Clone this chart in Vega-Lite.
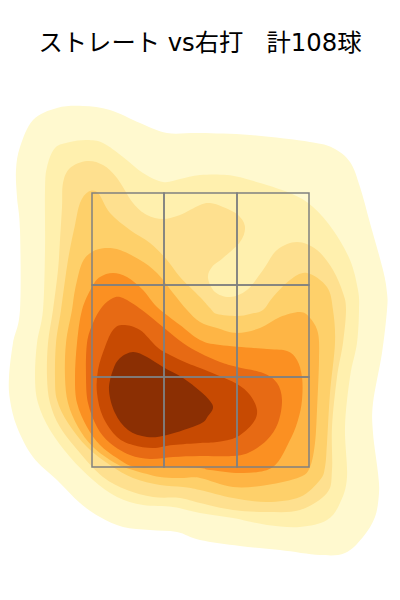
{"$schema":"https://vega.github.io/schema/vega-lite/v6.json","width":400,"height":520,"padding":{"top":80,"left":0,"right":0,"bottom":0},"autosize":"none","background":"white","view":{"stroke":null},
"title":{"text":"ストレート vs右打\u00a0\u00a0\u00a0計108球","font":"DejaVu Sans, Noto Sans CJK JP","fontSize":24.3,"fontWeight":"normal","color":"black","anchor":"middle","offset":24},
"datasets":{"contours":[
{"level":"1","x":-1.8,"z":2.9},{"level":"1","x":-1.8,"z":3.7},{"level":"1","x":-1.83,"z":4.03},{"level":"1","x":-1.84,"z":4.3},{"level":"1","x":-1.8,"z":4.53},{"level":"1","x":-1.67,"z":4.8},{"level":"1","x":-1.43,"z":4.92},{"level":"1","x":-1.17,"z":4.94},{"level":"1","x":-0.9,"z":4.9},{"level":"1","x":-0.6,"z":4.77},{"level":"1","x":-0.33,"z":4.67},{"level":"1","x":0,"z":4.67},{"level":"1","x":0.5,"z":4.65},{"level":"1","x":1.1,"z":4.58},{"level":"1","x":1.33,"z":4.52},{"level":"1","x":1.5,"z":4.38},{"level":"1","x":1.6,"z":4.13},{"level":"1","x":1.7,"z":3.77},{"level":"1","x":1.83,"z":3.3},{"level":"1","x":1.87,"z":3.07},{"level":"1","x":1.87,"z":2.9},{"level":"1","x":1.82,"z":2.47},{"level":"1","x":1.73,"z":1.97},{"level":"1","x":1.73,"z":1.67},{"level":"1","x":1.78,"z":1.27},{"level":"1","x":1.79,"z":1.07},{"level":"1","x":1.75,"z":0.83},{"level":"1","x":1.63,"z":0.63},{"level":"1","x":1.45,"z":0.47},{"level":"1","x":1.2,"z":0.45},{"level":"1","x":0.8,"z":0.5},{"level":"1","x":0.4,"z":0.54},{"level":"1","x":0,"z":0.6},{"level":"1","x":-0.23,"z":0.68},{"level":"1","x":-0.5,"z":0.7},{"level":"1","x":-0.77,"z":0.73},{"level":"1","x":-1,"z":0.83},{"level":"1","x":-1.2,"z":0.97},{"level":"1","x":-1.43,"z":1.2},{"level":"1","x":-1.67,"z":1.43},{"level":"1","x":-1.83,"z":1.73},{"level":"1","x":-1.9,"z":2},{"level":"1","x":-1.91,"z":2.23},{"level":"1","x":-1.87,"z":2.57},
{"level":"2","x":-1.55,"z":3.5},{"level":"2","x":-1.55,"z":4.1},{"level":"2","x":-1.53,"z":4.33},{"level":"2","x":-1.45,"z":4.52},{"level":"2","x":-1.3,"z":4.58},{"level":"2","x":-1.13,"z":4.6},{"level":"2","x":-0.97,"z":4.57},{"level":"2","x":-0.77,"z":4.43},{"level":"2","x":-0.57,"z":4.27},{"level":"2","x":-0.37,"z":4.18},{"level":"2","x":-0.2,"z":4.21},{"level":"2","x":0,"z":4.25},{"level":"2","x":0.27,"z":4.25},{"level":"2","x":0.5,"z":4.2},{"level":"2","x":0.9,"z":4.07},{"level":"2","x":1.13,"z":3.93},{"level":"2","x":1.33,"z":3.7},{"level":"2","x":1.5,"z":3.4},{"level":"2","x":1.58,"z":3.1},{"level":"2","x":1.59,"z":2.9},{"level":"2","x":1.57,"z":2.57},{"level":"2","x":1.5,"z":2.23},{"level":"2","x":1.45,"z":1.73},{"level":"2","x":1.47,"z":1.23},{"level":"2","x":1.4,"z":0.97},{"level":"2","x":1.27,"z":0.8},{"level":"2","x":1,"z":0.73},{"level":"2","x":0.67,"z":0.75},{"level":"2","x":0.33,"z":0.82},{"level":"2","x":0,"z":0.87},{"level":"2","x":-0.27,"z":0.93},{"level":"2","x":-0.57,"z":0.95},{"level":"2","x":-0.83,"z":1.03},{"level":"2","x":-1.07,"z":1.2},{"level":"2","x":-1.3,"z":1.43},{"level":"2","x":-1.5,"z":1.7},{"level":"2","x":-1.62,"z":1.97},{"level":"2","x":-1.65,"z":2.23},{"level":"2","x":-1.63,"z":2.57},{"level":"2","x":-1.57,"z":2.9},
{"level":"3","x":-1.47,"z":2.9},{"level":"3","x":-1.42,"z":3.3},{"level":"3","x":-1.4,"z":3.6},{"level":"3","x":-1.38,"z":3.93},{"level":"3","x":-1.37,"z":4.17},{"level":"3","x":-1.3,"z":4.32},{"level":"3","x":-1.13,"z":4.39},{"level":"3","x":-0.97,"z":4.35},{"level":"3","x":-0.83,"z":4.22},{"level":"3","x":-0.67,"z":3.97},{"level":"3","x":-0.53,"z":3.85},{"level":"3","x":-0.37,"z":3.81},{"level":"3","x":-0.2,"z":3.85},{"level":"3","x":0,"z":3.95},{"level":"3","x":0.1,"z":3.97},{"level":"3","x":0.23,"z":3.93},{"level":"3","x":0.38,"z":3.85},{"level":"3","x":0.45,"z":3.73},{"level":"3","x":0.4,"z":3.58},{"level":"3","x":0.23,"z":3.42},{"level":"3","x":0.12,"z":3.33},{"level":"3","x":0.08,"z":3.22},{"level":"3","x":0.15,"z":3.08},{"level":"3","x":0.3,"z":3.03},{"level":"3","x":0.47,"z":3.1},{"level":"3","x":0.63,"z":3.3},{"level":"3","x":0.77,"z":3.5},{"level":"3","x":0.97,"z":3.58},{"level":"3","x":1.17,"z":3.5},{"level":"3","x":1.33,"z":3.3},{"level":"3","x":1.43,"z":3.07},{"level":"3","x":1.46,"z":2.9},{"level":"3","x":1.43,"z":2.57},{"level":"3","x":1.37,"z":2.23},{"level":"3","x":1.32,"z":1.73},{"level":"3","x":1.32,"z":1.3},{"level":"3","x":1.27,"z":1.07},{"level":"3","x":1,"z":0.9},{"level":"3","x":0.67,"z":0.88},{"level":"3","x":0.33,"z":0.9},{"level":"3","x":0,"z":0.97},{"level":"3","x":-0.2,"z":1.02},{"level":"3","x":-0.47,"z":1.03},{"level":"3","x":-0.73,"z":1.1},{"level":"3","x":-0.97,"z":1.23},{"level":"3","x":-1.2,"z":1.47},{"level":"3","x":-1.4,"z":1.73},{"level":"3","x":-1.5,"z":1.97},{"level":"3","x":-1.53,"z":2.23},{"level":"3","x":-1.52,"z":2.57},
{"level":"4","x":-1.39,"z":2.9},{"level":"4","x":-1.32,"z":3.4},{"level":"4","x":-1.25,"z":3.75},{"level":"4","x":-1.2,"z":3.97},{"level":"4","x":-1.12,"z":4.08},{"level":"4","x":-1.02,"z":4.07},{"level":"4","x":-0.9,"z":3.87},{"level":"4","x":-0.7,"z":3.7},{"level":"4","x":-0.5,"z":3.57},{"level":"4","x":-0.33,"z":3.4},{"level":"4","x":-0.2,"z":3.23},{"level":"4","x":0,"z":3.03},{"level":"4","x":0.1,"z":2.92},{"level":"4","x":0.17,"z":2.86},{"level":"4","x":0.37,"z":2.84},{"level":"4","x":0.5,"z":2.86},{"level":"4","x":0.63,"z":2.9},{"level":"4","x":0.73,"z":3.03},{"level":"4","x":0.9,"z":3.2},{"level":"4","x":1.07,"z":3.27},{"level":"4","x":1.27,"z":3.13},{"level":"4","x":1.33,"z":2.9},{"level":"4","x":1.35,"z":2.57},{"level":"4","x":1.3,"z":2.07},{"level":"4","x":1.27,"z":1.57},{"level":"4","x":1.25,"z":1.33},{"level":"4","x":1.2,"z":1.2},{"level":"4","x":1,"z":1.03},{"level":"4","x":0.67,"z":0.98},{"level":"4","x":0.33,"z":1.02},{"level":"4","x":0,"z":1.1},{"level":"4","x":-0.17,"z":1.13},{"level":"4","x":-0.4,"z":1.15},{"level":"4","x":-0.67,"z":1.22},{"level":"4","x":-0.9,"z":1.35},{"level":"4","x":-1.13,"z":1.53},{"level":"4","x":-1.32,"z":1.77},{"level":"4","x":-1.43,"z":2},{"level":"4","x":-1.45,"z":2.23},{"level":"4","x":-1.44,"z":2.57},
{"level":"5","x":-1.28,"z":2.9},{"level":"5","x":-1.25,"z":3.1},{"level":"5","x":-1.18,"z":3.37},{"level":"5","x":-1.08,"z":3.48},{"level":"5","x":-0.95,"z":3.52},{"level":"5","x":-0.8,"z":3.5},{"level":"5","x":-0.6,"z":3.4},{"level":"5","x":-0.43,"z":3.27},{"level":"5","x":-0.27,"z":3.07},{"level":"5","x":-0.13,"z":2.9},{"level":"5","x":0,"z":2.78},{"level":"5","x":0.17,"z":2.72},{"level":"5","x":0.37,"z":2.67},{"level":"5","x":0.6,"z":2.72},{"level":"5","x":0.8,"z":2.83},{"level":"5","x":1,"z":2.88},{"level":"5","x":1.1,"z":2.82},{"level":"5","x":1.18,"z":2.67},{"level":"5","x":1.19,"z":2.4},{"level":"5","x":1.17,"z":1.9},{"level":"5","x":1.15,"z":1.57},{"level":"5","x":1.1,"z":1.33},{"level":"5","x":1,"z":1.23},{"level":"5","x":0.67,"z":1.15},{"level":"5","x":0.33,"z":1.13},{"level":"5","x":0,"z":1.22},{"level":"5","x":-0.17,"z":1.22},{"level":"5","x":-0.4,"z":1.23},{"level":"5","x":-0.67,"z":1.3},{"level":"5","x":-0.85,"z":1.37},{"level":"5","x":-1.07,"z":1.53},{"level":"5","x":-1.22,"z":1.73},{"level":"5","x":-1.32,"z":1.97},{"level":"5","x":-1.35,"z":2.23},{"level":"5","x":-1.34,"z":2.57},
{"level":"6","x":-1.18,"z":2.9},{"level":"6","x":-1.08,"z":3.13},{"level":"6","x":-1,"z":3.23},{"level":"6","x":-0.87,"z":3.27},{"level":"6","x":-0.73,"z":3.23},{"level":"6","x":-0.57,"z":3.1},{"level":"6","x":-0.43,"z":2.93},{"level":"6","x":-0.2,"z":2.75},{"level":"6","x":0,"z":2.6},{"level":"6","x":0.2,"z":2.55},{"level":"6","x":0.67,"z":2.51},{"level":"6","x":0.87,"z":2.49},{"level":"6","x":0.97,"z":2.4},{"level":"6","x":1.02,"z":2.23},{"level":"6","x":1.02,"z":2},{"level":"6","x":0.98,"z":1.8},{"level":"6","x":0.9,"z":1.6},{"level":"6","x":0.73,"z":1.33},{"level":"6","x":0.43,"z":1.27},{"level":"6","x":0.1,"z":1.3},{"level":"6","x":0,"z":1.32},{"level":"6","x":-0.33,"z":1.33},{"level":"6","x":-0.65,"z":1.33},{"level":"6","x":-0.83,"z":1.42},{"level":"6","x":-1,"z":1.55},{"level":"6","x":-1.13,"z":1.73},{"level":"6","x":-1.23,"z":1.97},{"level":"6","x":-1.25,"z":2.23},{"level":"6","x":-1.23,"z":2.57},
{"level":"7","x":-0.98,"z":2.93},{"level":"7","x":-0.87,"z":3.02},{"level":"7","x":-0.77,"z":3.02},{"level":"7","x":-0.58,"z":2.9},{"level":"7","x":-0.37,"z":2.73},{"level":"7","x":-0.17,"z":2.57},{"level":"7","x":0,"z":2.47},{"level":"7","x":0.2,"z":2.38},{"level":"7","x":0.37,"z":2.33},{"level":"7","x":0.63,"z":2.27},{"level":"7","x":0.77,"z":2.17},{"level":"7","x":0.82,"z":2},{"level":"7","x":0.78,"z":1.77},{"level":"7","x":0.67,"z":1.6},{"level":"7","x":0.5,"z":1.48},{"level":"7","x":0.33,"z":1.44},{"level":"7","x":0,"z":1.44},{"level":"7","x":-0.27,"z":1.43},{"level":"7","x":-0.5,"z":1.41},{"level":"7","x":-0.7,"z":1.45},{"level":"7","x":-0.9,"z":1.57},{"level":"7","x":-1.03,"z":1.73},{"level":"7","x":-1.12,"z":1.97},{"level":"7","x":-1.14,"z":2.23},{"level":"7","x":-1.13,"z":2.57},{"level":"7","x":-1.07,"z":2.77},
{"level":"8","x":-0.77,"z":2.75},{"level":"8","x":-0.6,"z":2.7},{"level":"8","x":-0.43,"z":2.53},{"level":"8","x":-0.3,"z":2.45},{"level":"8","x":-0.13,"z":2.37},{"level":"8","x":0,"z":2.32},{"level":"8","x":0.17,"z":2.25},{"level":"8","x":0.37,"z":2.16},{"level":"8","x":0.5,"z":2.05},{"level":"8","x":0.57,"z":1.9},{"level":"8","x":0.53,"z":1.77},{"level":"8","x":0.37,"z":1.63},{"level":"8","x":0.17,"z":1.58},{"level":"8","x":0,"z":1.57},{"level":"8","x":-0.27,"z":1.55},{"level":"8","x":-0.47,"z":1.52},{"level":"8","x":-0.67,"z":1.55},{"level":"8","x":-0.83,"z":1.63},{"level":"8","x":-0.97,"z":1.83},{"level":"8","x":-1.03,"z":2.07},{"level":"8","x":-1.02,"z":2.3},{"level":"8","x":-0.95,"z":2.53},{"level":"8","x":-0.87,"z":2.7},
{"level":"9","x":-0.67,"z":2.48},{"level":"9","x":-0.53,"z":2.43},{"level":"9","x":-0.37,"z":2.33},{"level":"9","x":-0.17,"z":2.22},{"level":"9","x":0,"z":2.09},{"level":"9","x":0.1,"z":1.99},{"level":"9","x":0.13,"z":1.92},{"level":"9","x":0.08,"z":1.84},{"level":"9","x":0,"z":1.76},{"level":"9","x":-0.33,"z":1.65},{"level":"9","x":-0.53,"z":1.63},{"level":"9","x":-0.72,"z":1.7},{"level":"9","x":-0.85,"z":1.87},{"level":"9","x":-0.91,"z":2.1},{"level":"9","x":-0.87,"z":2.3},{"level":"9","x":-0.8,"z":2.42}
],
"zone":[
{"x1":-1.08,"x2":-0.36,"z1":3.15,"z2":4.07},{"x1":-0.36,"x2":0.37,"z1":3.15,"z2":4.07},{"x1":0.37,"x2":1.09,"z1":3.15,"z2":4.07},
{"x1":-1.08,"x2":-0.36,"z1":2.23,"z2":3.15},{"x1":-0.36,"x2":0.37,"z1":2.23,"z2":3.15},{"x1":0.37,"x2":1.09,"z1":2.23,"z2":3.15},
{"x1":-1.08,"x2":-0.36,"z1":1.33,"z2":2.23},{"x1":-0.36,"x2":0.37,"z1":1.33,"z2":2.23},{"x1":0.37,"x2":1.09,"z1":1.33,"z2":2.23}
]},
"layer":[
{"data":{"name":"contours"},"mark":{"type":"line","interpolate":"cardinal-closed","strokeWidth":0,"clip":false},
"encoding":{"x":{"field":"x","type":"quantitative","scale":{"domain":[-2,2],"nice":false,"zero":false},"axis":null},
"y":{"field":"z","type":"quantitative","scale":{"domain":[0,5.2],"nice":false,"zero":false},"axis":null},
"order":{"value":null},
"detail":{"field":"level"},
"fill":{"field":"level","type":"nominal","legend":null,"scale":{"domain":["1","2","3","4","5","6","7","8","9"],"range":["#FFF9CF","#FFF0AE","#FEE08F","#FED06A","#FEB545","#FB9022","#E76A14","#C74A02","#8B2F03"]}}}},
{"data":{"name":"zone"},"mark":{"type":"rect","fillOpacity":0,"stroke":"#808080","strokeWidth":1.5},
"encoding":{"x":{"field":"x1","type":"quantitative","scale":{"domain":[-2,2],"nice":false,"zero":false},"axis":null},"x2":{"field":"x2"},
"y":{"field":"z1","type":"quantitative","scale":{"domain":[0,5.2],"nice":false,"zero":false},"axis":null},"y2":{"field":"z2"}}}
]}
